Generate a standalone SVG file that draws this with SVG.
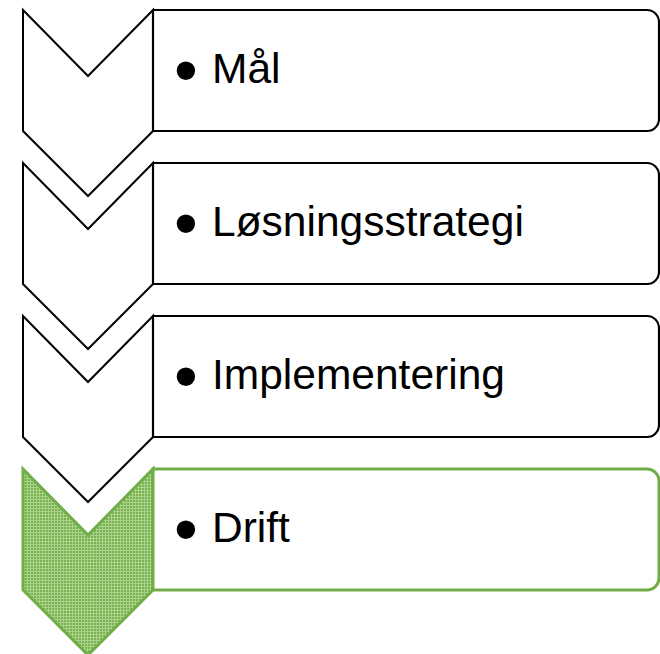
<svg xmlns="http://www.w3.org/2000/svg" width="660" height="654" viewBox="0 0 660 654">
<defs>
<pattern id="grid" width="3" height="3" patternUnits="userSpaceOnUse">
<rect width="3" height="3" fill="#79b14c"/>
<rect width="3" height="1" fill="#a9d38e"/>
<rect width="1" height="3" fill="#a9d38e"/>
</pattern>
<path id="chev" d="M23,0 L88,66 L153,0 V121 L88,186 L23,121 Z"/>
<path id="box" d="M153,0 H647 A12,12 0 0 1 659,12 V109 A12,12 0 0 1 647,121 H153 Z"/>
</defs>
<style>
.ch{fill:#ffffff;stroke:#000000;stroke-width:2;stroke-linejoin:miter}
.bx{fill:#ffffff;stroke:#000000;stroke-width:2.2}
.gch{fill:url(#grid);stroke:#70ad47;stroke-width:3}
.gbx{fill:#ffffff;stroke:#70ad47;stroke-width:3}
.t{font-family:"Liberation Sans",Arial,sans-serif;font-size:42.5px;fill:#000000}
.b{font-family:"Liberation Sans",Arial,sans-serif;font-size:68px;fill:#000000}
</style>
<g id="node1" transform="translate(0,10)">
<use href="#chev" class="ch"/>
<use href="#box" class="bx"/>
<text class="b" x="174" y="83">•</text>
<text class="t" x="212" y="73">Mål</text>
</g>
<g id="node2" transform="translate(0,163)">
<use href="#chev" class="ch"/>
<use href="#box" class="bx"/>
<text class="b" x="174" y="83">•</text>
<text class="t" x="212" y="73">Løsningsstrategi</text>
</g>
<g id="node3" transform="translate(0,316)">
<use href="#chev" class="ch"/>
<use href="#box" class="bx"/>
<text class="b" x="174" y="83">•</text>
<text class="t" x="212" y="73">Implementering</text>
</g>
<g id="node4" transform="translate(0,469)">
<use href="#chev" class="gch"/>
<use href="#box" class="gbx"/>
<text class="b" x="174" y="83">•</text>
<text class="t" x="212" y="73">Drift</text>
</g>
<g id="connectors"></g>
</svg>
